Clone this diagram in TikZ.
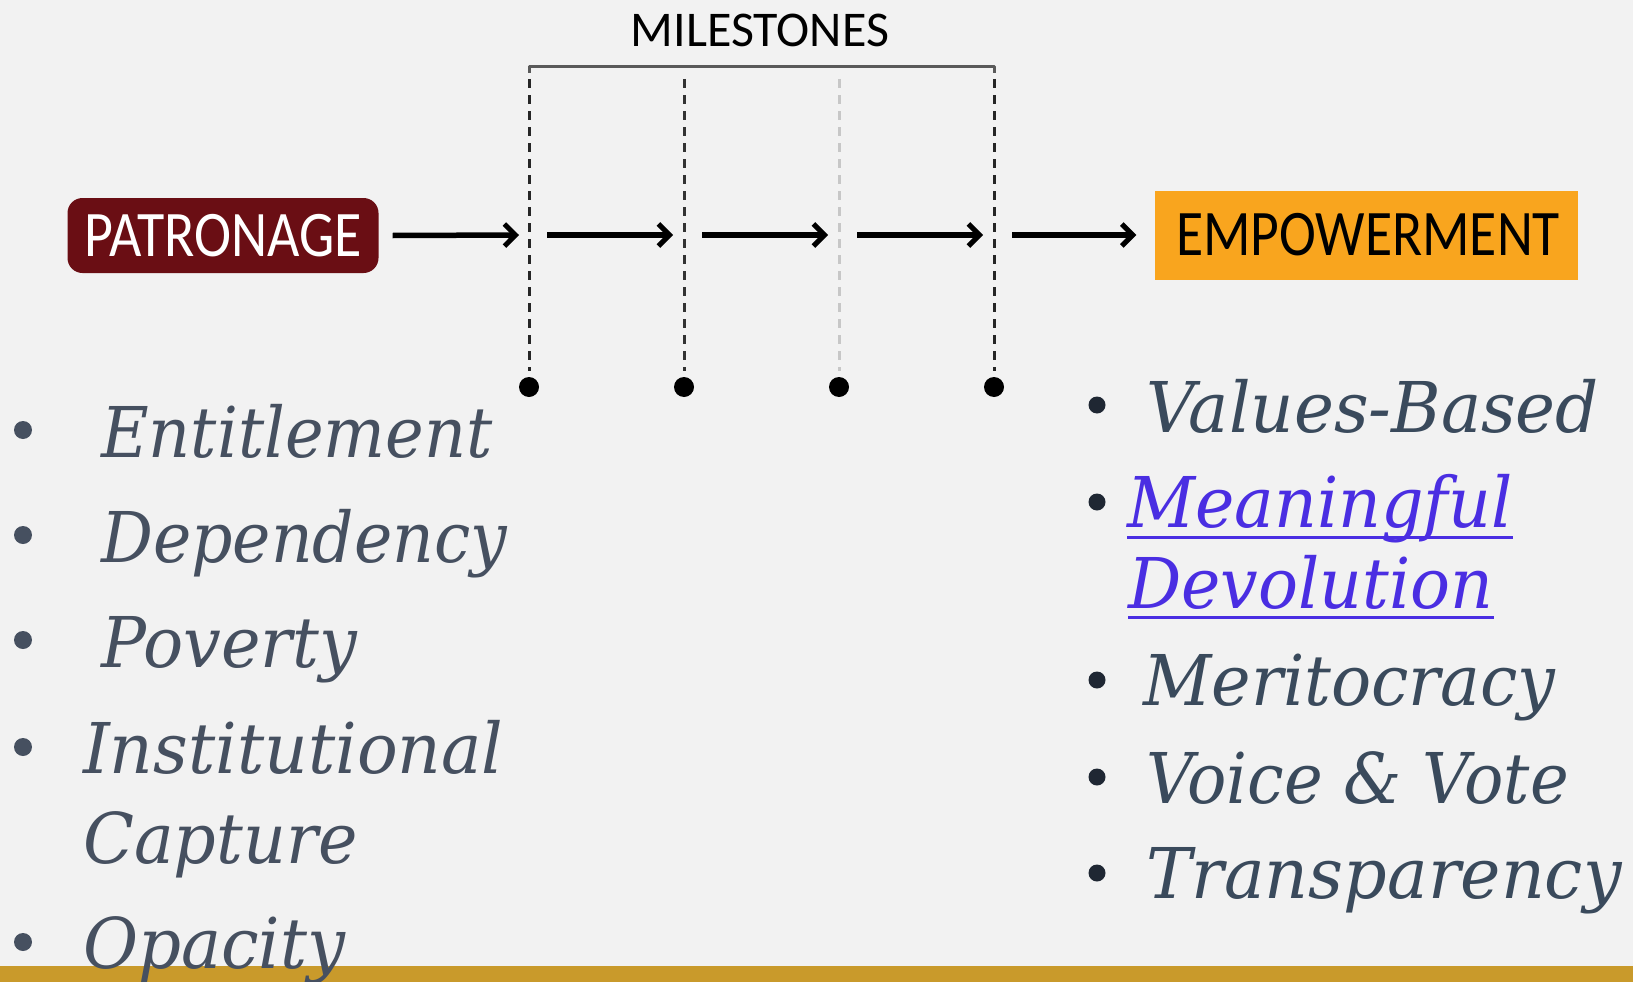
\documentclass[tikz,border=0pt]{standalone}
\usepackage{fontspec}
\usetikzlibrary{arrows.meta}
\newfontfamily\geo{DejaVu Serif}
\newfontfamily\calib{Carlito}
\definecolor{bg}{HTML}{F2F2F2}
\definecolor{band}{HTML}{C99A2B}
\definecolor{patred}{HTML}{6A0E14}
\definecolor{emporange}{HTML}{F9A51E}
\definecolor{lefttxt}{HTML}{465060}
\definecolor{righttxt}{HTML}{3A4A5C}
\definecolor{rightdot}{HTML}{1F2733}
\definecolor{linkblue}{HTML}{4A2EE2}
\definecolor{brack}{HTML}{5A5A5A}
\tikzset{
  flowarrow/.style={line width=5.5pt, draw=black, -{Straight Barb[length=11pt,width=22pt,line width=5pt]}},
  msline/.style={line width=3pt, dash pattern=on 9pt off 7pt, draw=#1},
  msdot/.style={circle, fill=black, minimum size=20pt, inner sep=0pt},
  itemtxt/.style={font=\geo\itshape\fontsize{70}{70}\selectfont, anchor=base west, inner sep=0pt, text=#1},
  bulletL/.style={circle, fill=lefttxt, minimum size=18pt, inner sep=0pt},
  bulletR/.style={circle, fill=rightdot, minimum size=17pt, inner sep=0pt},
}
\begin{document}
\begin{tikzpicture}[x=1pt,y=-1pt]
\fill[bg] (0,0) rectangle (1633,982);
\useasboundingbox (0,0) rectangle (1633,982);

% boxes
\node[fill=patred, rounded corners=15pt, minimum width=311pt, minimum height=75pt, inner sep=0pt] (pat) at (223,235.5) {};
\node[text=white, font=\calib\fontsize{65}{65}\selectfont, xscale=0.86, inner sep=0pt] (pattxt) at (pat.center) {PATRONAGE};
\node[fill=emporange, minimum width=423pt, minimum height=89pt, inner sep=0pt] (emp) at (1366,235) {};
\node[text=black, font=\calib\fontsize{65}{65}\selectfont, xscale=0.855, inner sep=0pt] (emptxt) at ([xshift=2pt]emp.center) {EMPOWERMENT};

% milestones title and bracket
\node[font=\calib\fontsize{50}{50}\selectfont, anchor=base, inner sep=0pt] (mtitle) at (760,47) {MILESTONES};
\coordinate (b1) at (529,67);
\coordinate (b4) at (994,67);
\draw[draw=brack, line width=3pt, line join=round] ([yshift=-6pt]b1) -- (b1) -- (b4) -- ([yshift=-6pt]b4);

% milestone lines and dots
\foreach \i/\x/\c in {1/529/black!85, 2/684/black!80, 3/839/black!22, 4/994/black!85}{
  \coordinate (t\i) at (\x,79);
  \node[msdot] (d\i) at (\x,387) {};
  \draw[msline=\c] (t\i) -- ([yshift=6pt]d\i.north);
}

% arrows
\coordinate (a1e) at (519,235);
\coordinate (a2s) at (547,235); \coordinate (a2e) at (673,235);
\coordinate (a3s) at (702,235); \coordinate (a3e) at (828,235);
\coordinate (a4s) at (857,235); \coordinate (a4e) at (983,235);
\coordinate (a5s) at (1012,235);
\draw[flowarrow] ([xshift=14pt]pat.east) -- (a1e);
\draw[flowarrow] (a2s) -- (a2e);
\draw[flowarrow] (a3s) -- (a3e);
\draw[flowarrow] (a4s) -- (a4e);
\draw[flowarrow] (a5s) -- ([xshift=-18pt]emp.west);

% left list
\node[bulletL] (lb1) at (23,430) {};
\node[itemtxt=lefttxt, xscale=0.933] (l1) at (101,457) {Entitlement};
\node[bulletL] (lb2) at (23,535) {};
\node[itemtxt=lefttxt, xscale=0.925] (l2) at (101,562) {Dependency};
\node[bulletL] (lb3) at (23,640) {};
\node[itemtxt=lefttxt, xscale=0.954] (l3) at (101,667) {Poverty};
\node[bulletL] (lb4) at (23,747) {};
\node[itemtxt=lefttxt, xscale=0.968] (l4) at (83,773) {Institutional};
\node[itemtxt=lefttxt, xscale=0.952] (l5) at (83,863) {Capture};
\node[bulletL] (lb6) at (23,942) {};
\node[itemtxt=lefttxt, xscale=0.96] (l6) at (83,968) {Opacity};
\fill[band] (0,966) rectangle (1633,982);
\begin{scope}
\clip (0,966) rectangle (1633,982);
\node[itemtxt=lefttxt, xscale=0.96] (l6b) at (83,968) {Opacity};
\end{scope}

% right list
\node[bulletR] (rb1) at (1097,405) {};
\node[itemtxt=righttxt, xscale=0.964] (r1) at (1146,432) {Values-Based};
\node[bulletR] (rb2) at (1097,502) {};
\node[itemtxt=linkblue, xscale=0.95] (r2) at (1127,527) {Meaningful};
\node[itemtxt=linkblue, xscale=0.95] (r3) at (1128,608) {Devolution};
\draw[draw=linkblue, line width=3pt] ([yshift=-10pt]r2.base west) -- ([yshift=-10pt]r2.base east);
\draw[draw=linkblue, line width=3pt] ([yshift=-9pt]r3.base west) -- ([yshift=-9pt]r3.base east);
\node[bulletR] (rb4) at (1097,680) {};
\node[itemtxt=righttxt, xscale=0.954] (r4) at (1143,705) {Meritocracy};
\node[bulletR] (rb5) at (1097,777) {};
\node[itemtxt=righttxt, xscale=0.935] (r5) at (1146,803) {Voice \& Vote};
\node[bulletR] (rb6) at (1097,873) {};
\node[itemtxt=righttxt, xscale=0.974] (r6) at (1146,898) {Transparency};
\end{tikzpicture}
\end{document}
